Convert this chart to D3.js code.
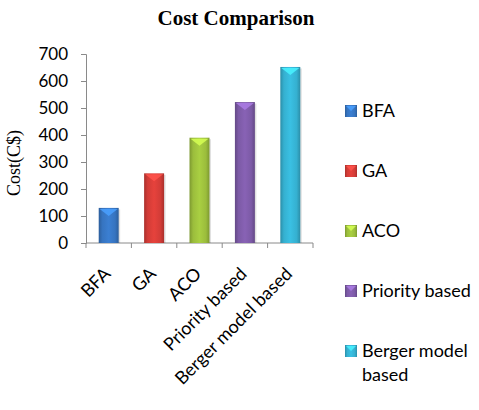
<!DOCTYPE html>
<html>
<head>
<meta charset="utf-8">
<script src="https://cdn.jsdelivr.net/npm/d3@7"></script>
<style>
  body { margin: 0; background: #fff; }
</style>
</head>
<body>
<div id="chart"></div>
<script>
var categories = ["BFA", "GA", "ACO", "Priority based", "Berger model based"];
var costs = [130, 258, 390, 522, 652];
var yTicks = [0, 100, 200, 300, 400, 500, 600, 700];
var legendLines = [["BFA"], ["GA"], ["ACO"], ["Priority based"], ["Berger model", "based"]];
var barColors = ["#3674c0", "#d23c37", "#9bbd3c", "#7c5aa6", "#35b0d0"];

var canvasWidth = 479;
var canvasHeight = 410;

var svg = d3.select("div#chart").append("svg")
    .attr("width", canvasWidth)
    .attr("height", canvasHeight);

/*Gradients for the bevelled bars*/
var defs = svg.append("defs");
barColors.forEach(function (c, i) {
    var g = defs.append("linearGradient")
        .attr("id", "grad" + i)
        .attr("x1", "0").attr("x2", "1").attr("y1", "0").attr("y2", "0");
    var dark = d3.color(c).darker(0.6);
    var light = d3.color(c).brighter(0.25);
    g.append("stop").attr("offset", "0%").attr("stop-color", dark);
    g.append("stop").attr("offset", "18%").attr("stop-color", c);
    g.append("stop").attr("offset", "50%").attr("stop-color", light);
    g.append("stop").attr("offset", "82%").attr("stop-color", c);
    g.append("stop").attr("offset", "100%").attr("stop-color", dark);
});

/*Scales*/
var xScale = d3.scaleBand().domain(categories).range([86, 313]);
var yScale = d3.scaleLinear().domain([0, 700]).range([243, 54]);
var barW = xScale.bandwidth() * 0.44;

/*Title*/
svg.append("text")
    .attr("x", 236)
    .attr("y", 25)
    .attr("text-anchor", "middle")
    .style("font-family", "'Liberation Serif', 'Times New Roman', serif")
    .style("font-weight", "bold")
    .style("font-size", "21px")
    .text("Cost Comparison");

/*Y axis title*/
svg.append("text")
    .attr("transform", "translate(20,163) rotate(-90)")
    .attr("text-anchor", "middle")
    .style("font-family", "'Liberation Serif', 'Times New Roman', serif")
    .style("font-size", "18px")
    .text("Cost(C$)");

/*Y axis*/
var yAxis = svg.append("g")
    .attr("transform", "translate(86,0)")
    .call(d3.axisLeft(yScale).tickValues(yTicks).tickSize(5).tickPadding(13));
yAxis.select(".domain").attr("stroke", "#8a8a8a");
yAxis.selectAll(".tick line").attr("stroke", "#8a8a8a");
yAxis.selectAll(".tick text")
    .attr("fill", "#000")
    .style("font-family", "Lato, sans-serif")
    .style("font-size", "17px");

/*X axis baseline and ticks at category boundaries*/
var xAxis = svg.append("g").attr("transform", "translate(0,243)");
xAxis.append("line")
    .attr("x1", 86).attr("x2", 313)
    .attr("stroke", "#8a8a8a");
var bounds = categories.map(function (d) { return xScale(d); }).concat([xScale.range()[1]]);
xAxis.selectAll(".xtick")
    .data(bounds)
    .join("line")
    .attr("x1", function (d) { return d; })
    .attr("x2", function (d) { return d; })
    .attr("y1", 0).attr("y2", 5)
    .attr("stroke", "#8a8a8a");

/*X labels, rotated*/
svg.selectAll(".xlab")
    .data(categories)
    .join("text")
    .attr("text-anchor", "end")
    .attr("transform", function (d) {
        return "translate(" + (xScale(d) + xScale.bandwidth() / 2 + 3) + ",275) rotate(-45)";
    })
    .style("font-family", "Lato, sans-serif")
    .style("font-size", "18px")
    .text(function (d) { return d; });

/*Bars*/
var bars = svg.selectAll(".bar")
    .data(costs)
    .join("g");

bars.append("rect")
    .attr("x", function (d, i) { return xScale(categories[i]) + (xScale.bandwidth() - barW) / 2 + 1.5; })
    .attr("y", function (d) { return yScale(d) + 1.5; })
    .attr("width", barW)
    .attr("height", function (d) { return yScale(0) - yScale(d) - 1.5; })
    .attr("fill", "#000")
    .attr("opacity", 0.12);

bars.append("rect")
    .attr("x", function (d, i) { return xScale(categories[i]) + (xScale.bandwidth() - barW) / 2; })
    .attr("y", function (d) { return yScale(d); })
    .attr("width", barW)
    .attr("height", function (d) { return yScale(0) - yScale(d); })
    .attr("fill", function (d, i) { return "url(#grad" + i + ")"; });

bars.append("path")
    .attr("d", function (d, i) {
        var x0 = xScale(categories[i]) + (xScale.bandwidth() - barW) / 2;
        var y0 = yScale(d);
        return "M" + (x0 + 1) + "," + (y0 + 1) + "L" + (x0 + barW - 1) + "," + (y0 + 1) +
            "L" + (x0 + barW / 2) + "," + (y0 + 8) + "Z";
    })
    .attr("fill", function (d, i) { return d3.color(barColors[i]).brighter(0.9); })
    .attr("opacity", 0.85);

/*Legend*/
var legend = svg.selectAll(".leg")
    .data(legendLines)
    .join("g")
    .attr("transform", function (d, i) { return "translate(345," + (111 + i * 60) + ")"; });

legend.append("rect")
    .attr("x", 0).attr("y", -6)
    .attr("width", 12).attr("height", 12)
    .attr("fill", function (d, i) { return "url(#grad" + i + ")"; });
legend.append("path")
    .attr("d", "M1,-5L11,-5L6,0Z")
    .attr("fill", function (d, i) { return d3.color(barColors[i]).brighter(0.9); })
    .attr("opacity", 0.85);

legend.append("text")
    .attr("x", 17)
    .attr("y", 0)
    .style("font-family", "Lato, sans-serif")
    .style("font-size", "18px")
    .selectAll("tspan")
    .data(function (d) { return d; })
    .join("tspan")
    .attr("x", 17)
    .attr("dy", function (d, j) { return j === 0 ? "0.35em" : "24px"; })
    .text(function (d) { return d; });
</script>
</body>
</html>
